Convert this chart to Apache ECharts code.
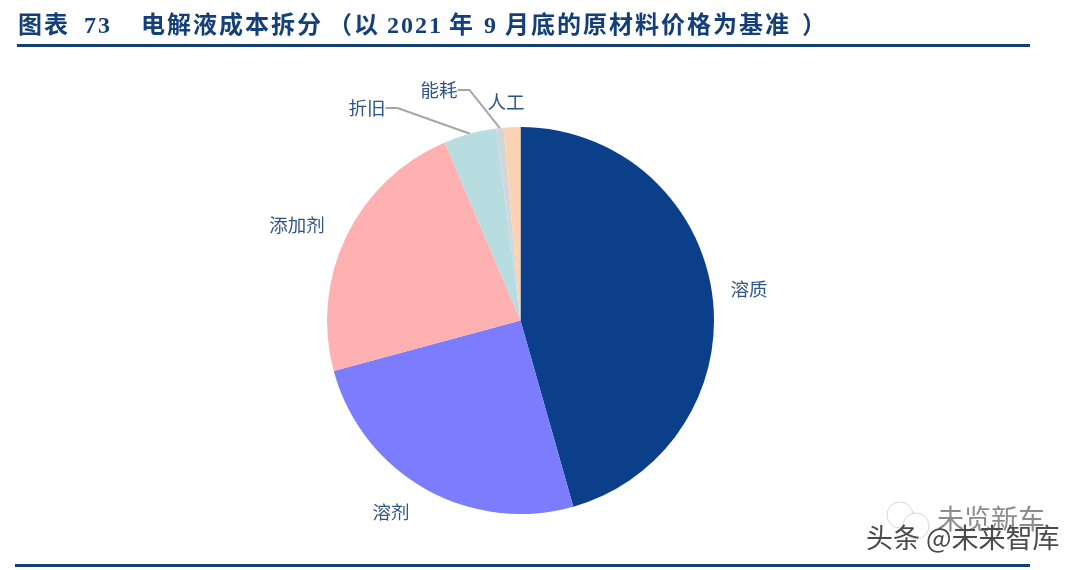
<!DOCTYPE html>
<html><head><meta charset="utf-8">
<script src="https://cdn.jsdelivr.net/npm/echarts@6/dist/echarts.min.js"></script>
<style>html,body{margin:0;padding:0;background:#fff}#c{width:1080px;height:570px}</style></head>
<body><div id="c"></div>
<script>
const categories = ['溶质','溶剂','添加剂','折旧','能耗','人工'];
const shares = [45.6,25.2,22.8,4.4,0.6,1.4];
const colors = ['#0B3F8A','#7C7CFF','#FFB1B1','#B7DDE1','#D2D6D8','#FBD2B4'];
const labelCentres = {'溶质':[749,289],'溶剂':[391,512],'添加剂':[297,225],'折旧':[367,108],'能耗':[439,90],'人工':[506,102]};
const titlePieces = [['图表',18],['73',84],['电解液成本拆分',141],['（',328],['以',354],['2021',387],['年',449],['9',484],['月底的原材料价格为基准',505],['）',802]];
const ink = '#2F5587';
const spaced = s => s.split('').join('\u200A');
const chart = echarts.init(document.getElementById('c'));
chart.setOption({
  animation:false,
  backgroundColor:'#fff',
  graphic:[
    ...titlePieces.map(p=>({type:'text',left:p[1],top:15,style:{text:spaced(p[0]),fill:'#143F78',font:'bold 24px "Liberation Serif","Noto Sans CJK SC"'}})),
    {type:'rect',shape:{x:17,y:44,width:1013,height:3},style:{fill:'#12416F'}},
    {type:'rect',shape:{x:15,y:564,width:1015,height:3},style:{fill:'#12416F'}},
    {type:'circle',shape:{cx:900,cy:515,r:13},style:{fill:'#fff',stroke:'#D8D8D8',lineWidth:1}},
    {type:'circle',shape:{cx:916,cy:526,r:13},style:{fill:'#fff',stroke:'#D8D8D8',lineWidth:1}},
    {type:'text',left:937,top:505,style:{text:'未览新车',fill:'#8C8C8C',font:'27px "Noto Sans CJK SC"'}},
    {type:'text',left:866,top:524,style:{text:'头条 @未来智库',fill:'#4A4A4A',font:'27px "Noto Sans CJK SC"'}}
  ],
  series:[{
    type:'pie',
    center:[520.5,320.5],
    radius:[0,193.5],
    startAngle:90,
    clockwise:true,
    silent:true,
    data:categories.map((n,i)=>({name:n,value:shares[i],itemStyle:{color:colors[i]},
      labelLine:{show:n==='折旧'||n==='能耗',length:14,length2:12,lineStyle:{color:'#A6A6A6',width:2}}})),
    label:{show:true,formatter:'{b}',color:ink,fontSize:18.5,fontFamily:'"Noto Sans CJK SC"'},
    labelLayout:function(p){
      const n=categories[p.dataIndex], c=labelCentres[n];
      return {x:c[0]-p.labelRect.width/2,y:c[1]-p.labelRect.height/2,align:'left',verticalAlign:'top'};
    }
  }]
});
</script></body></html>
